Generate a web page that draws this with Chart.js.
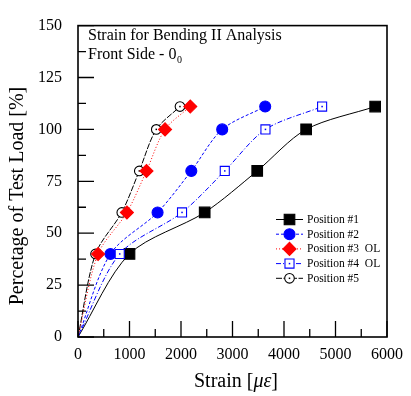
<!DOCTYPE html>
<html>
<head>
<meta charset="utf-8">
<title>Strain for Bending II Analysis</title>
<script src="https://cdn.jsdelivr.net/npm/chart.js@4.4.1/dist/chart.umd.min.js"></script>
<style>
  html, body { margin: 0; padding: 0; background: #fff; }
  #wrap { width: 411px; height: 396px; }
</style>
</head>
<body>
<div id="wrap"><canvas id="strainChart" width="411" height="396"></canvas></div>
<script>
// load steps in % of test load (0 included so every curve starts at the origin)
const loadSteps = [0, 40, 60, 80, 100, 111];

// strain readings per gauge position, microstrain
const pos1Strain = [0, 1000, 2460, 3480, 4430, 5770];
const pos2Strain = [0, 630, 1545, 2200, 2800, 3635];
const pos3Strain = [0, 390, 950, 1330, 1690, 2180];
const pos4Strain = [0, 810, 2020, 2850, 3640, 4740];
const pos5Strain = [0, 340, 850, 1190, 1520, 1980];

const seriesLabels = ['Position #1', 'Position #2', 'Position #3  OL', 'Position #4  OL', 'Position #5'];

const xTickValues = [0, 1000, 2000, 3000, 4000, 5000, 6000];
const yTickValues = [0, 25, 50, 75, 100, 125, 150];

const SERIF = '"Liberation Serif", "Times New Roman", serif';

function toPoints(strain) {
    return strain.map((s, i) => ({ x: s, y: loadSteps[i] }));
}

// hide the marker on the origin point
function markerSize(r) {
    return ctx => (ctx.dataIndex === 0 ? 0 : r);
}

const datasets = [
    {
        label: seriesLabels[0],
        data: toPoints(pos1Strain),
        borderColor: '#000',
        backgroundColor: '#000',
        borderWidth: 1,
        pointStyle: 'rect',
        pointRadius: markerSize(7.5),
        legendRadius: 7.5,
        order: 5
    },
    {
        label: seriesLabels[1],
        data: toPoints(pos2Strain),
        borderColor: '#0000ff',
        backgroundColor: '#0000ff',
        borderWidth: 1,
        borderDash: [3, 2],
        pointStyle: 'circle',
        pointRadius: markerSize(5.5),
        legendRadius: 5.5,
        order: 4
    },
    {
        label: seriesLabels[2],
        data: toPoints(pos3Strain),
        borderColor: '#ff0000',
        backgroundColor: '#ff0000',
        borderWidth: 1,
        borderDash: [1, 2],
        pointStyle: 'rectRot',
        pointRadius: markerSize(6.5),
        legendRadius: 6.5,
        order: 1
    },
    {
        label: seriesLabels[3],
        data: toPoints(pos4Strain),
        borderColor: '#0000ff',
        backgroundColor: '#fff',
        borderWidth: 1,
        borderDash: [5, 2, 1, 2],
        pointStyle: 'rect',
        pointRadius: markerSize(6.4),
        legendRadius: 6.4,
        centerDot: true,
        order: 3
    },
    {
        label: seriesLabels[4],
        data: toPoints(pos5Strain),
        borderColor: '#000',
        backgroundColor: '#fff',
        borderWidth: 1,
        borderDash: [6, 1.5],
        pointStyle: 'circle',
        pointRadius: markerSize(4.8),
        legendRadius: 4.8,
        centerDot: true,
        order: 2
    }
];

datasets.forEach(ds => {
    ds.pointBorderWidth = 1.1;
    ds.pointHoverRadius = ds.pointRadius;
    ds.tension = 0.3;
    ds.fill = false;
});

function dot(ctx, x, y, color) {
    ctx.fillStyle = color;
    ctx.fillRect(x - 0.75, y - 0.75, 1.5, 1.5);
}

// small dot inside the hollow markers, drawn right after their own dataset
const centerDots = {
    id: 'centerDots',
    afterDatasetDraw(chart, args) {
        const ds = chart.data.datasets[args.index];
        if (!ds.centerDot) return;
        const ctx = chart.ctx;
        ctx.save();
        args.meta.data.forEach((pt, i) => {
            if (i > 0) dot(ctx, pt.x, pt.y, ds.borderColor);
        });
        ctx.restore();
    }
};

// frame, inward ticks, inset title, legend and axis titles
const decorations = {
    id: 'decorations',
    afterDatasetsDraw(chart) {
        const { ctx, chartArea: a, scales } = chart;
        const xs = scales.x, ys = scales.y;
        ctx.save();

        // inward ticks, minor ones halfway between labels
        ctx.strokeStyle = '#000';
        ctx.lineWidth = 1.3;
        ctx.beginPath();
        for (let i = 0; i < yTickValues.length; i++) {
            const py = ys.getPixelForValue(yTickValues[i]);
            ctx.moveTo(a.left, py);
            ctx.lineTo(a.left + 16, py);
            if (i < yTickValues.length - 1) {
                const my = ys.getPixelForValue((yTickValues[i] + yTickValues[i + 1]) / 2);
                ctx.moveTo(a.left, my);
                ctx.lineTo(a.left + 8, my);
            }
        }
        for (let i = 0; i < xTickValues.length; i++) {
            const px = xs.getPixelForValue(xTickValues[i]);
            ctx.moveTo(px, a.bottom);
            ctx.lineTo(px, a.bottom - 16);
            if (i < xTickValues.length - 1) {
                const mx = xs.getPixelForValue((xTickValues[i] + xTickValues[i + 1]) / 2);
                ctx.moveTo(mx, a.bottom);
                ctx.lineTo(mx, a.bottom - 8);
            }
        }
        ctx.stroke();

        // plot frame
        ctx.lineWidth = 1.6;
        ctx.strokeRect(a.left, a.top, a.right - a.left, a.bottom - a.top);

        // inset title
        ctx.fillStyle = '#000';
        ctx.textAlign = 'left';
        ctx.textBaseline = 'alphabetic';
        ctx.font = '16px ' + SERIF;
        ctx.fillText('Strain for Bending II Analysis', a.left + 10, a.top + 14);
        const line2 = 'Front Side - 0';
        ctx.fillText(line2, a.left + 10, a.top + 33);
        const w2 = ctx.measureText(line2).width;
        ctx.font = '10px ' + SERIF;
        ctx.fillText('0', a.left + 10 + w2 + 0.5, a.top + 37);

        // legend
        const legendX = 276, legendY = 219.5, rowH = 14.7;
        chart.data.datasets.forEach((ds, i) => {
            const y = legendY + i * rowH;
            const mx = legendX + 13.5;
            ctx.strokeStyle = ds.borderColor;
            ctx.lineWidth = ds.borderWidth;
            ctx.setLineDash(ds.borderDash || []);
            ctx.beginPath();
            ctx.moveTo(legendX, y);
            ctx.lineTo(legendX + 27, y);
            ctx.stroke();
            ctx.setLineDash([]);
            ctx.fillStyle = ds.backgroundColor;
            ctx.strokeStyle = ds.borderColor;
            ctx.lineWidth = 1.1;
            Chart.helpers.drawPoint(ctx, {
                pointStyle: ds.pointStyle,
                radius: ds.legendRadius,
                rotation: 0,
                borderWidth: 1.1
            }, mx, y);
            if (ds.centerDot) dot(ctx, mx, y, ds.borderColor);
            ctx.fillStyle = '#000';
            ctx.font = '11.5px ' + SERIF;
            ctx.textBaseline = 'middle';
            ctx.fillText(ds.label, legendX + 31, y + 0.5);
        });

        // y axis title
        ctx.font = '20px ' + SERIF;
        ctx.textAlign = 'center';
        ctx.textBaseline = 'middle';
        ctx.save();
        ctx.translate(18, 196);
        ctx.rotate(-Math.PI / 2);
        ctx.fillText('Percetage of Test Load [%]', 0, 0);
        ctx.restore();

        // x axis title, with italic micro-epsilon
        const parts = [
            { t: 'Strain [', f: '20px ' + SERIF },
            { t: 'με', f: 'italic 20px ' + SERIF },
            { t: ']', f: '20px ' + SERIF }
        ];
        let total = 0;
        parts.forEach(p => { ctx.font = p.f; p.w = ctx.measureText(p.t).width; total += p.w; });
        let tx = 236 - total / 2;
        ctx.textAlign = 'left';
        ctx.textBaseline = 'alphabetic';
        parts.forEach(p => { ctx.font = p.f; ctx.fillText(p.t, tx, 387); tx += p.w; });

        ctx.restore();
    }
};

const strainCtx = document.getElementById('strainChart').getContext('2d');
new Chart(strainCtx, {
    type: 'line',
    data: { datasets: datasets },
    options: {
        responsive: false,
        animation: false,
        devicePixelRatio: 1,
        layout: { padding: { top: 16, right: 17, left: 0, bottom: 0 } },
        plugins: {
            legend: { display: false },
            tooltip: { enabled: false }
        },
        scales: {
            x: {
                type: 'linear',
                min: 0,
                max: 6000,
                grid: { display: false, drawTicks: false },
                border: { display: false },
                ticks: {
                    color: '#000',
                    padding: 8,
                    maxRotation: 0,
                    font: { family: SERIF, size: 16 },
                    callback: v => String(v)
                },
                afterBuildTicks: scale => {
                    scale.ticks = xTickValues.map(v => ({ value: v }));
                },
                afterFit: scale => { scale.height = 59; }
            },
            y: {
                type: 'linear',
                min: 0,
                max: 150,
                grid: { display: false, drawTicks: false },
                border: { display: false },
                ticks: {
                    color: '#000',
                    padding: 16,
                    font: { family: SERIF, size: 16 },
                    callback: v => String(v)
                },
                afterBuildTicks: scale => {
                    scale.ticks = yTickValues.map(v => ({ value: v }));
                },
                afterFit: scale => { scale.width = 78; }
            }
        }
    },
    plugins: [centerDots, decorations]
});
</script>
</body>
</html>
